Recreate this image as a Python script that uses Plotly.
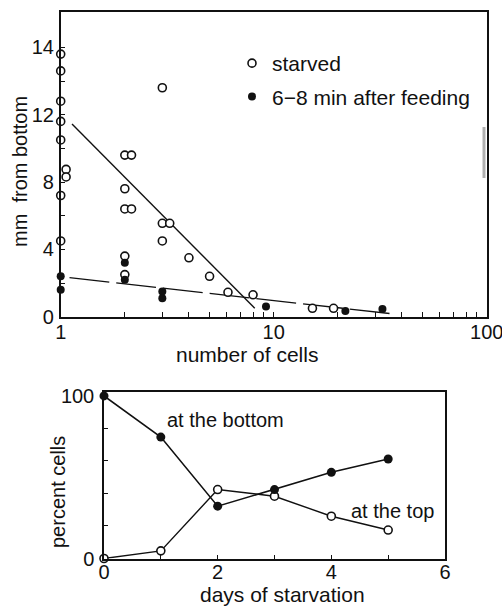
import plotly.graph_objects as go

# ---- top panel data ----
starved_x = [1, 1, 1, 1, 1, 1.06, 1.06, 1, 1,
             2, 2.15, 2, 2, 2.15, 2, 2,
             3, 3, 3.25, 3, 4, 5, 6.1, 8, 15.2, 19.1]
starved_y = [15.6, 14.6, 12.8, 11.6, 10.5, 8.75, 8.3, 7.2, 4.5,
             9.6, 9.6, 7.6, 6.4, 6.4, 3.6, 2.5,
             13.6, 5.55, 5.55, 4.5, 3.5, 2.4, 1.45, 1.3, 0.5, 0.5]
fed_x = [1, 1, 2, 2, 3, 3, 9.2, 21.7, 32.4]
fed_y = [2.4, 1.6, 3.2, 2.2, 1.5, 1.1, 0.6, 0.34, 0.46]
starved_fit_x = [1.13, 8.15]
starved_fit_y = [11.45, 0.5]
fed_fit_x = [1.1, 37.7]
fed_fit_y = [2.32, 0.14]

top_ytickvals = [0, 2, 4, 6, 8, 10, 12, 14, 16]
top_yticktext = ["0", "", "4", "", "8", "", "12", "", "14"]
top_xtickvals = [1, 2, 3, 4, 5, 6, 7, 8, 9, 10, 20, 30, 40, 50, 60, 70, 80, 90, 100]
top_xticktext = ["1"] + [""] * 8 + ["10"] + [""] * 8 + ["100"]

# ---- bottom panel data ----
days = [0, 1, 2, 3, 4, 5]
bottom_pct = [100, 74.7, 32.2, 42.4, 53, 61.2]
top_pct = [0, 4.7, 42.4, 38.3, 26, 17.5]
bot_ytickvals = [0, 20, 40, 60, 80, 100]
bot_yticktext = ["0", "", "", "", "", "100"]
bot_xtickvals = [0, 1, 2, 3, 4, 5, 6]
bot_xticktext = ["0", "", "2", "", "4", "", "6"]

FONT = "Liberation Sans, Arial, sans-serif"
INK = "#111111"

fig = go.Figure()

# top panel
fig.add_trace(go.Scatter(x=starved_fit_x, y=starved_fit_y, mode="lines",
                         line=dict(color=INK, width=1.4), showlegend=False,
                         xaxis="x", yaxis="y"))
fig.add_trace(go.Scatter(x=fed_fit_x, y=fed_fit_y, mode="lines",
                         line=dict(color=INK, width=1.4, dash="40px,7px"),
                         showlegend=False, xaxis="x", yaxis="y"))
fig.add_trace(go.Scatter(x=starved_x, y=starved_y, mode="markers", name="starved",
                         marker=dict(symbol="circle", size=8, color="white",
                                     line=dict(color=INK, width=1.6)),
                         cliponaxis=False, xaxis="x", yaxis="y", legendgroup="a"))
fig.add_trace(go.Scatter(x=fed_x, y=fed_y, mode="markers", name="6\u22128 min after feeding",
                         marker=dict(symbol="circle", size=8, color=INK),
                         cliponaxis=False, xaxis="x", yaxis="y", legendgroup="b"))

# bottom panel
fig.add_trace(go.Scatter(x=days, y=top_pct, mode="lines+markers",
                         line=dict(color=INK, width=1.4),
                         marker=dict(symbol="circle", size=8, color="white",
                                     line=dict(color=INK, width=1.6)),
                         cliponaxis=False, showlegend=False, xaxis="x2", yaxis="y2"))
fig.add_trace(go.Scatter(x=days, y=bottom_pct, mode="lines+markers",
                         line=dict(color=INK, width=1.6),
                         marker=dict(symbol="circle", size=9, color=INK),
                         cliponaxis=False, showlegend=False, xaxis="x2", yaxis="y2"))

axis_common = dict(showline=True, linecolor=INK, linewidth=1.5, mirror=True,
                   showgrid=False, zeroline=False, ticks="inside", automargin=False,
                   ticklabeloverflow="allow",
                   tickcolor=INK, tickfont=dict(family=FONT, size=20, color=INK))

fig.update_layout(
    width=502, height=608,
    margin=dict(l=0, r=0, t=0, b=0, pad=0, autoexpand=False),
    paper_bgcolor="white", plot_bgcolor="white",
    font=dict(family=FONT, size=20, color=INK),
    xaxis=dict(type="log", range=[0, 2], domain=[60.7 / 502, 486.7 / 502],
               tickvals=top_xtickvals, ticktext=top_xticktext, ticklen=5,
               ticklabelstandoff=-3, anchor="y", **axis_common),
    yaxis=dict(range=[0, 18.1], domain=[1 - 316.7 / 608, 1 - 12 / 608],
               tickvals=top_ytickvals, ticktext=top_yticktext, ticklen=5,
               ticklabelstandoff=1, anchor="x", **axis_common),
    xaxis2=dict(range=[0, 6], domain=[104 / 502, 445 / 502],
                tickvals=bot_xtickvals, ticktext=bot_xticktext, ticklen=4,
                ticklabelstandoff=-5, anchor="y2", **axis_common),
    yaxis2=dict(range=[0, 102.6], domain=[1 - 558.5 / 608, 1 - 391.7 / 608],
                tickvals=bot_ytickvals, ticktext=bot_yticktext, ticklen=4,
                ticklabelstandoff=4, anchor="x2", **axis_common),
    legend=dict(x=232 / 502, y=1 - 43 / 608, xanchor="left", yanchor="top",
                bgcolor="rgba(0,0,0,0)", itemwidth=30, tracegroupgap=3,
                font=dict(family=FONT, size=21, color=INK)),
    showlegend=True,
)

annos = [
    dict(text="mm  from bottom", x=20 / 502, y=1 - 172 / 608, textangle=-90, size=20),
    dict(text="number of cells", x=247 / 502, y=1 - 354 / 608, size=21),
    dict(text="percent cells", x=58 / 502, y=1 - 492 / 608, textangle=-90, size=20),
    dict(text="days of starvation", x=282 / 502, y=1 - 594 / 608, size=21),
]
for a in annos:
    sz = a.pop("size")
    fig.add_annotation(xref="paper", yref="paper", showarrow=False,
                       xanchor="center", yanchor="middle",
                       font=dict(family=FONT, size=sz, color=INK), **a)

fig.add_annotation(x=2.14, y=85.3, xref="x2", yref="y2", text="at the bottom",
                   showarrow=False, font=dict(family=FONT, size=20, color=INK))
fig.add_annotation(x=5.07, y=29, xref="x2", yref="y2", text="at the top",
                   showarrow=False, font=dict(family=FONT, size=20, color=INK))

# faint scan artifact on the right border of the top panel
fig.add_shape(type="line", xref="paper", yref="paper",
              x0=484 / 502, x1=484 / 502, y0=1 - 127 / 608, y1=1 - 178 / 608,
              line=dict(color="#b0b0b0", width=3))

fig.write_html("out.html", config={"displayModeBar": False},
               post_script="document.body.style.margin='0';document.body.style.overflow='hidden';")
